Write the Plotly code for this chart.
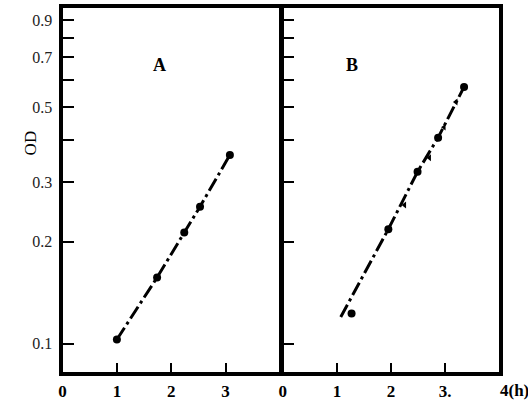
import plotly.graph_objects as go

# ---- data ----
A_time = [1.00, 1.74, 2.24, 2.53, 3.08]
A_od = [0.103, 0.157, 0.213, 0.254, 0.361]

B_time = [1.27, 1.95, 2.49, 2.87, 3.35]
B_od = [0.123, 0.218, 0.322, 0.406, 0.573]

B_mark_time = [2.25, 2.71, 2.98, 3.20]
B_mark_od = [0.257, 0.354, 0.436, 0.517]

B_line_time = [1.07, 1.95, 2.49, 2.87, 3.35]
B_line_od = [0.120, 0.218, 0.322, 0.406, 0.573]

y_tickvals = [0.1, 0.2, 0.3, 0.4, 0.5, 0.6, 0.7, 0.8, 0.9]
y_ticktext = ["0.1", "0.2", "0.3", "", "0.5", "", "0.7", "", "0.9"]
A_xticks = [0, 1, 2, 3]
A_xtext = ["0", "1", "2", "3"]
B_xticks = [0, 1, 2, 3, 4]
B_xtext = ["0", "1", "2", "3.", ""]

W, H = 528, 404
serif = "Liberation Serif"

fig = go.Figure()
line_style = dict(color="black", width=3, dash="14px,4px,3px,4px")

fig.add_trace(go.Scatter(x=A_time, y=A_od, mode="lines+markers",
                         line=line_style, marker=dict(color="black", size=8),
                         xaxis="x", yaxis="y", showlegend=False))
fig.add_trace(go.Scatter(x=B_line_time, y=B_line_od, mode="lines",
                         line=line_style, xaxis="x2", yaxis="y2", showlegend=False))
fig.add_trace(go.Scatter(x=B_time, y=B_od, mode="markers",
                         marker=dict(color="black", size=8),
                         xaxis="x2", yaxis="y2", showlegend=False))
fig.add_trace(go.Scatter(x=B_mark_time, y=B_mark_od, mode="markers",
                         marker=dict(color="black", size=6, symbol="triangle-left"),
                         xaxis="x2", yaxis="y2", showlegend=False))

ydom = [1 - 372 / H, 1 - 8 / H]
yrange = [-1.083, -0.009]
common_x = dict(showline=True, linecolor="black", linewidth=4, mirror=True,
                ticks="inside", ticklen=9, tickwidth=2, tickcolor="black",
                showgrid=False, zeroline=False,
                ticklabelstandoff=1,
                tickfont=dict(family=serif, size=17, color="black", weight="bold"))
common_y = dict(type="log", range=yrange, domain=ydom, showline=True,
                linecolor="black", linewidth=4, mirror=True,
                ticks="inside", ticklen=11, tickwidth=2, tickcolor="black",
                showgrid=False, zeroline=False,
                tickvals=y_tickvals)

fig.update_layout(
    width=W, height=H,
    margin=dict(l=0, r=0, t=0, b=0),
    paper_bgcolor="white", plot_bgcolor="rgba(0,0,0,0)",
    xaxis=dict(domain=[59 / W, 278 / W], range=[0, 4.0], anchor="y",
               tickvals=A_xticks, ticktext=A_xtext, **common_x),
    xaxis2=dict(domain=[281 / W, 499 / W], range=[0, 4], anchor="y2",
                tickvals=B_xticks, ticktext=B_xtext, **common_x),
    yaxis=dict(anchor="x", ticktext=y_ticktext,
               ticklabelstandoff=3,
               tickfont=dict(family=serif, size=16, color="#222"),
               **common_y),
    yaxis2=dict(anchor="x2", matches="y", showticklabels=False,
                **common_y),
    annotations=[
        dict(text="OD", x=15 / W, y=1 - 143 / H, xref="paper", yref="paper",
             textangle=-90, showarrow=False,
             font=dict(family=serif, size=17, color="black")),
        dict(text="<b>A</b>", x=148 / W, y=1 - 53 / H, xref="paper", yref="paper",
             showarrow=False, font=dict(family=serif, size=18, color="black")),
        dict(text="<b>B</b>", x=359 / W, y=1 - 53 / H, xref="paper", yref="paper",
             showarrow=False, font=dict(family=serif, size=18, color="black")),
        dict(text="<b>4(h)</b>", x=498 / W, y=1 - 390 / H, xref="paper", yref="paper",
             xanchor="left", yanchor="middle", showarrow=False,
             font=dict(family=serif, size=17, color="black")),
    ],
)

fig.write_html("out.html", config={"displayModeBar": False},
               post_script="document.body.style.margin='0';document.body.style.overflow='hidden';")
